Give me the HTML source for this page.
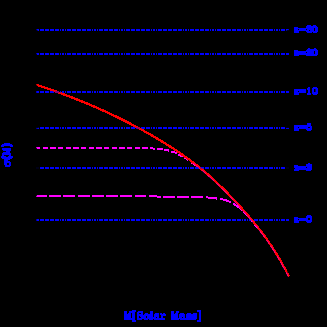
<!DOCTYPE html>
<html><head><meta charset="utf-8"><title>sigma(M)</title>
<style>
html,body{margin:0;padding:0;background:#000;}
body{width:327px;height:327px;overflow:hidden;}
svg{display:block;}
text{font-family:"Liberation Mono",monospace;font-weight:bold;font-size:10px;fill:#00f;fill-opacity:0;stroke:none;}
</style></head><body>
<svg width="327" height="327" viewBox="0 0 327 327">
<rect width="327" height="327" fill="#000"/>
<defs>
<path id="bl" d="M36 0H39M40 0H44M45 0H49M50 0H54M55 0H59M60 0H61M62 0H64M65 0H66M67 0H71M72 0H76M77 0H81M82 0H86M87 0H91M92 0H93M94 0H96M97 0H98M99 0H103M104 0H108M109 0H113M114 0H118M119 0H120M121 0H123M124 0H125M126 0H130M131 0H135M136 0H140M141 0H145M146 0H150M151 0H152M153 0H155M156 0H157M158 0H162M163 0H167M168 0H172M173 0H177M178 0H182M183 0H184M185 0H187M188 0H189M190 0H194M195 0H199M200 0H204M205 0H209M210 0H211M212 0H214M215 0H216M217 0H221M222 0H226M227 0H231M232 0H236M237 0H241M242 0H243M244 0H246M247 0H248M249 0H253M254 0H258M259 0H263M264 0H268M269 0H273M274 0H275M276 0H278M279 0H280M281 0H285M286 0H289" stroke="#00f" stroke-width="2" fill="none" shape-rendering="crispEdges"/>
</defs>
<use href="#bl" y="30"/>
<use href="#bl" y="54"/>
<use href="#bl" y="92"/>
<use href="#bl" y="128"/>
<use href="#bl" y="168"/>
<use href="#bl" y="220"/>
<g stroke="#f0f" stroke-width="2" fill="none" stroke-linejoin="round" shape-rendering="crispEdges">
<path d="M36 148H40M43 148H48M50 148H56M58 148H63M66 148H71M73 148H79M81 148H86M89 148H94M96 148H102M104 148H109M112 148H117M119 148H125M127 148H132M135 148H140M142 148H148M150 148H153M153 149H155M157 149H163M164 150H169M36 196H47M49 196H61M63 196H75M78 196H90M92 196H104M106 196H118M120 196H132M135 196H146M149 196H157M157 197H161M163 197H175M177 197H189M191 197H203M206 197H208M208 198H217"/>
<path d="M171.0 151.8 L172.0 151.9 L173.0 152.1 L174.0 152.2 L175.0 152.5 L176.0 152.9 L177.0 153.2 M178.0 154.6 L179.0 155.0 L180.0 155.4 L181.0 155.7 L182.0 156.1 L183.0 156.4 M185.0 157.8 L186.0 158.5 L187.0 159.1 L188.0 159.8 L188.5 160.2 M191.5 162.3 L192.5 163.0 L193.5 163.8 L194.5 164.6 L195.0 165.0"/>
<path d="M220.2 198.8 L221.2 199.0 L222.2 199.2 L223.2 199.5 L224.2 199.8 L225.2 200.1 L226.2 200.4 L227.2 200.7 L228.2 201.1 L229.2 201.5 L230.2 202.0 L230.8 202.2 M233.0 203.5 L234.0 204.1 L235.0 204.7 L236.0 205.4 L237.0 206.0 L238.0 206.8 L239.0 207.5 L240.0 208.3 L241.0 209.2 L242.0 210.0 L242.5 210.5 M243.8 211.8 L244.8 212.8 L245.8 213.9 L246.8 215.0 L247.8 216.1 L248.8 217.2 L249.5 218.1 M251.5 220.7 L252.5 222.1 M254.5 224.5 L255.5 225.7 L256.5 227.0 L257.0 227.6"/>
<path d="M216 199h1v1h-1zM168 151h1v1h-1z" fill="#f0f" stroke="none"/>
</g>
<path d="M36.0 84.6 L39.0 85.6 L42.0 86.6 L45.0 87.6 L48.0 88.7 L51.0 89.7 L54.0 90.8 L57.0 91.9 L60.0 93.0 L63.0 94.1 L66.0 95.2 L69.0 96.3 L72.0 97.5 L75.0 98.7 L78.0 99.9 L81.0 101.1 L84.0 102.3 L87.0 103.5 L90.0 104.8 L93.0 106.1 L96.0 107.4 L99.0 108.7 L102.0 110.0 L105.0 111.4 L108.0 112.7 L111.0 114.1 L114.0 115.6 L117.0 117.0 L120.0 118.5 L123.0 120.0 L126.0 121.5 L129.0 123.0 L132.0 124.6 L135.0 126.1 L138.0 127.7 L141.0 129.4 L144.0 131.0 L147.0 132.7 L150.0 134.4 L153.0 136.1 L156.0 137.9 L159.0 139.7 L162.0 141.5 L165.0 143.4 L168.0 145.2 L171.0 147.1 L174.0 149.1 L177.0 151.1 L180.0 153.1 L183.0 155.2 L186.0 157.3 L189.0 159.4 L192.0 161.7 L195.0 164.0 L198.0 166.3 L201.0 168.7 L204.0 171.2 L207.0 173.7 L210.0 176.3 L213.0 179.0 L216.0 181.8 L219.0 184.7 L222.0 187.6 L225.0 190.5 L228.0 193.6 L231.0 196.7 L234.0 199.9 L237.0 203.1 L240.0 206.4 L243.0 209.7 L246.0 213.1 L249.0 216.6 L252.0 220.1 L255.0 223.7 L258.0 227.5 L261.0 231.3 L264.0 235.3 L267.0 239.5 L270.0 243.8 L273.0 248.3 L276.0 253.1 L279.0 258.1 L282.0 263.3 L285.0 268.8 L288.0 274.7 L289.0 276.7" stroke="#f00" stroke-width="2.3" fill="none" stroke-linejoin="round" shape-rendering="crispEdges"/>
<path d="M192.6 163.0 L194.6 164.5 L196.6 166.1 L198.6 167.6 L200.6 169.3 L202.6 170.9 L204.6 172.6 L206.6 174.3 L208.6 176.0 L210.6 177.8 L212.6 179.6 L214.6 181.4 L216.6 183.3 L218.6 185.2 L220.6 187.1 L222.6 189.1 L224.6 191.1 L226.6 193.1 L228.6 195.2 L230.6 197.2 L232.6 199.3 L234.6 201.5 L236.6 203.6 L238.6 205.8 L240.6 208.0 L242.6 210.3 L244.6 212.5 L246.6 214.8 L248.6 217.1 L250.6 219.5 L252.6 221.8 L254.6 224.3 L256.6 226.7 L258.6 229.3 L260.6 231.9 L262.6 234.5 L264.6 237.2 L266.6 240.0 L268.6 242.9 L270.6 245.8 L272.6 248.9 L274.6 252.0 L276.6 255.3 L278.6 258.6 L280.6 262.1 L282.6 265.7 L284.6 269.4 L286.6 273.2 L288.1 276.2" stroke="#f0f" stroke-width="1.1" stroke-opacity="0.5" fill="none" stroke-dasharray="9 3 5 2"/>
<use href="#bl" y="92" opacity=".45"/><use href="#bl" y="128" opacity=".3"/><use href="#bl" y="168" opacity=".3"/>
<g fill="#000" shape-rendering="crispEdges">
<rect x="36" y="29" width="1" height="1" fill-opacity="0.5"/><rect x="36" y="30" width="1" height="1" fill-opacity="0.9"/><rect x="37" y="30" width="1" height="1" fill-opacity="0.5"/><rect x="36" y="53" width="1" height="1" fill-opacity="0.4"/><rect x="36" y="54" width="1" height="1" fill-opacity="0.85"/><rect x="36" y="91" width="1" height="1" fill-opacity="0.3"/><rect x="36" y="92" width="1" height="1" fill-opacity="0.3"/><rect x="36" y="127" width="1" height="1" fill-opacity="0.9"/><rect x="37" y="127" width="1" height="1" fill-opacity="0.9"/><rect x="38" y="127" width="1" height="1" fill-opacity="0.75"/><rect x="36" y="128" width="1" height="1" fill-opacity="0.5"/><rect x="37" y="128" width="1" height="1" fill-opacity="0.2"/><rect x="36" y="167" width="1" height="1" fill-opacity="0.9"/><rect x="37" y="167" width="1" height="1" fill-opacity="0.9"/><rect x="38" y="167" width="1" height="1" fill-opacity="0.9"/><rect x="36" y="168" width="1" height="1" fill-opacity="0.9"/><rect x="37" y="168" width="1" height="1" fill-opacity="0.9"/><rect x="38" y="168" width="1" height="1" fill-opacity="0.9"/><rect x="36" y="219" width="1" height="1" fill-opacity="0.4"/><rect x="36" y="220" width="1" height="1" fill-opacity="0.4"/><rect x="36" y="148" width="1" height="1" fill-opacity="0.85"/><rect x="36" y="147" width="1" height="1" fill-opacity="0.25"/><rect x="36" y="195" width="1" height="1" fill-opacity="0.85"/><rect x="36" y="196" width="1" height="1" fill-opacity="0.25"/><rect x="36" y="84" width="1" height="1" fill-opacity="0.25"/><rect x="36" y="85" width="1" height="1" fill-opacity="0.8"/><rect x="287" y="30" width="1" height="1" fill-opacity="0.85"/><rect x="288" y="30" width="1" height="1" fill-opacity="0.9"/><rect x="286" y="30" width="1" height="1" fill-opacity="0.35"/><rect x="288" y="29" width="1" height="1" fill-opacity="0.2"/><rect x="286" y="127" width="1" height="1" fill-opacity="0.9"/><rect x="287" y="127" width="1" height="1" fill-opacity="0.9"/><rect x="288" y="127" width="1" height="1" fill-opacity="0.9"/><rect x="286" y="128" width="1" height="1" fill-opacity="0.1"/><rect x="287" y="128" width="1" height="1" fill-opacity="0.1"/><rect x="288" y="128" width="1" height="1" fill-opacity="0.1"/><rect x="286" y="167" width="1" height="1" fill-opacity="0.9"/><rect x="287" y="167" width="1" height="1" fill-opacity="0.9"/><rect x="288" y="167" width="1" height="1" fill-opacity="0.9"/><rect x="286" y="168" width="1" height="1" fill-opacity="0.9"/><rect x="287" y="168" width="1" height="1" fill-opacity="0.9"/><rect x="288" y="168" width="1" height="1" fill-opacity="0.9"/><rect x="287" y="271" width="1" height="1" fill-opacity="0.6"/><rect x="288" y="271" width="1" height="1" fill-opacity="0.5"/><rect x="287" y="272" width="1" height="1" fill-opacity="0.4"/>
</g>
<path d="M307 25h4v1h-4zM313 25h3v1h-3zM306 26h11v1h-11zM294 27h4v1h-4zM306 27h12v1h-12zM294 28h20v1h-20zM315 28h3v1h-3zM294 29h4v1h-4zM299 29h7v1h-7zM307 29h7v1h-7zM315 29h3v1h-3zM294 30h15v1h-15zM310 30h4v1h-4zM315 30h3v1h-3zM294 31h5v1h-5zM306 31h12v1h-12zM294 32h5v1h-5zM307 32h5v1h-5zM313 32h4v1h-4zM308 48h2v1h-2zM314 48h2v1h-2zM307 49h10v1h-10zM294 50h4v1h-4zM306 50h12v1h-12zM294 51h20v1h-20zM315 51h3v1h-3zM294 52h12v1h-12zM307 52h7v1h-7zM315 52h3v1h-3zM294 53h20v1h-20zM315 53h3v1h-3zM294 54h24v1h-24zM294 55h5v1h-5zM306 55h11v1h-11zM308 87h2v1h-2zM313 87h4v1h-4zM307 88h3v1h-3zM312 88h6v1h-6zM294 89h12v1h-12zM307 89h3v1h-3zM312 89h2v1h-2zM316 89h2v1h-2zM294 90h12v1h-12zM308 90h2v1h-2zM312 90h2v1h-2zM316 90h2v1h-2zM294 91h4v1h-4zM299 91h7v1h-7zM308 91h2v1h-2zM312 91h2v1h-2zM316 91h2v1h-2zM294 92h12v1h-12zM308 92h2v1h-2zM312 92h6v1h-6zM294 93h5v1h-5zM307 93h4v1h-4zM312 93h6v1h-6zM294 94h5v1h-5zM307 94h4v1h-4zM313 94h4v1h-4zM307 123h4v1h-4zM307 124h4v1h-4zM294 125h17v1h-17zM294 126h18v1h-18zM294 127h4v1h-4zM299 127h9v1h-9zM310 127h2v1h-2zM294 128h18v1h-18zM294 129h5v1h-5zM306 129h6v1h-6zM294 130h5v1h-5zM307 130h4v1h-4zM4 143h6v1h-6zM2 144h10v1h-10zM1 145h12v1h-12zM1 146h3v1h-3zM10 146h3v1h-3zM2 148h9v1h-9zM2 149h9v1h-9zM3 150h8v1h-8zM6 151h4v1h-4zM3 152h7v1h-7zM2 153h9v1h-9zM2 154h9v1h-9zM2 155h2v1h-2zM9 155h2v1h-2zM1 156h5v1h-5zM8 156h5v1h-5zM1 157h12v1h-12zM2 158h10v1h-10zM4 159h6v1h-6zM4 160h4v1h-4zM4 161h6v1h-6zM4 162h7v1h-7zM4 163h3v1h-3zM9 163h2v1h-2zM308 163h2v1h-2zM4 164h3v1h-3zM9 164h2v1h-2zM306 164h6v1h-6zM5 165h6v1h-6zM294 165h4v1h-4zM306 165h6v1h-6zM5 166h5v1h-5zM294 166h18v1h-18zM294 167h12v1h-12zM307 167h5v1h-5zM295 168h17v1h-17zM294 169h18v1h-18zM294 170h5v1h-5zM306 170h5v1h-5zM307 215h4v1h-4zM306 216h6v1h-6zM294 217h4v1h-4zM306 217h6v1h-6zM294 218h14v1h-14zM310 218h2v1h-2zM294 219h4v1h-4zM299 219h9v1h-9zM310 219h2v1h-2zM294 220h18v1h-18zM294 221h5v1h-5zM306 221h6v1h-6zM294 222h5v1h-5zM307 222h4v1h-4zM132 310h4v1h-4zM197 310h4v1h-4zM124 311h3v1h-3zM129 311h7v1h-7zM138 311h5v1h-5zM150 311h3v1h-3zM171 311h3v1h-3zM176 311h3v1h-3zM197 311h4v1h-4zM124 312h3v1h-3zM129 312h6v1h-6zM137 312h6v1h-6zM150 312h3v1h-3zM171 312h3v1h-3zM176 312h3v1h-3zM199 312h2v1h-2zM124 313h3v1h-3zM128 313h3v1h-3zM132 313h3v1h-3zM137 313h2v1h-2zM141 313h2v1h-2zM145 313h3v1h-3zM150 313h3v1h-3zM155 313h4v1h-4zM160 313h2v1h-2zM163 313h2v1h-2zM171 313h3v1h-3zM175 313h3v1h-3zM180 313h4v1h-4zM187 313h4v1h-4zM193 313h4v1h-4zM199 313h2v1h-2zM124 314h7v1h-7zM132 314h3v1h-3zM137 314h6v1h-6zM144 314h9v1h-9zM154 314h5v1h-5zM160 314h6v1h-6zM171 314h7v1h-7zM179 314h6v1h-6zM186 314h11v1h-11zM199 314h2v1h-2zM124 315h7v1h-7zM132 315h3v1h-3zM137 315h16v1h-16zM154 315h5v1h-5zM161 315h5v1h-5zM171 315h7v1h-7zM179 315h6v1h-6zM186 315h11v1h-11zM199 315h2v1h-2zM124 316h7v1h-7zM132 316h3v1h-3zM137 316h2v1h-2zM140 316h6v1h-6zM147 316h6v1h-6zM154 316h5v1h-5zM161 316h2v1h-2zM171 316h7v1h-7zM179 316h6v1h-6zM186 316h11v1h-11zM199 316h2v1h-2zM124 317h7v1h-7zM132 317h3v1h-3zM137 317h2v1h-2zM141 317h5v1h-5zM147 317h9v1h-9zM157 317h2v1h-2zM161 317h2v1h-2zM171 317h7v1h-7zM179 317h3v1h-3zM183 317h2v1h-2zM186 317h11v1h-11zM199 317h2v1h-2zM124 318h11v1h-11zM137 318h28v1h-28zM171 318h26v1h-26zM199 318h2v1h-2zM124 319h11v1h-11zM137 319h5v1h-5zM144 319h4v1h-4zM149 319h4v1h-4zM154 319h11v1h-11zM171 319h8v1h-8zM180 319h16v1h-16zM199 319h2v1h-2zM132 320h4v1h-4zM197 320h4v1h-4zM132 321h4v1h-4zM197 321h4v1h-4z" fill="#00f" shape-rendering="crispEdges"/>
<path d="M315 89h1v1h-1zM315 90h1v1h-1zM315 91h1v1h-1z" fill="#00f" fill-opacity=".5" shape-rendering="crispEdges"/>
<text x="294" y="33">z=30</text>
<text x="294" y="57">z=20</text>
<text x="294" y="95">z=10</text>
<text x="294" y="131">z=5</text>
<text x="294" y="171">z=3</text>
<text x="294" y="223">z=0</text>
<text x="124" y="320">M[Solar Mass]</text>
<text transform="translate(11 167) rotate(-90)">σ(M)</text>
</svg>
</body></html>
